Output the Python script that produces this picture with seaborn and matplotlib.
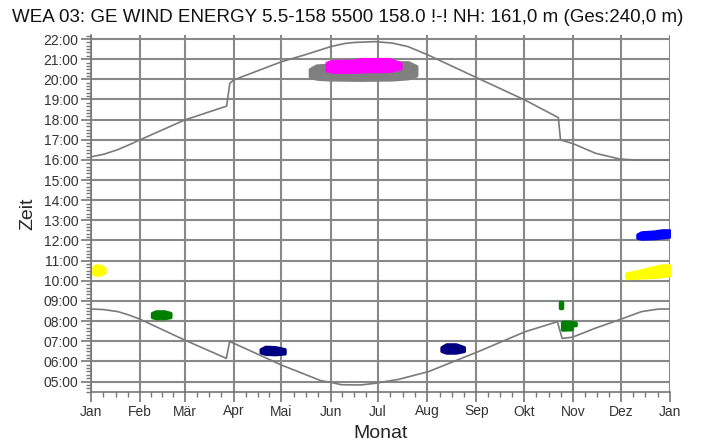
import numpy as np
import pandas as pd
import matplotlib
matplotlib.use("Agg")
import matplotlib.pyplot as plt
import seaborn as sns

# -----------------------------------
# 1. DATA (day of year, hour of day)
# -----------------------------------

month_days = [0, 31, 59, 90, 120, 151, 181, 212, 243, 273, 304, 334, 365]
month_labels = ["Jan", "Feb", "Mär", "Apr", "Mai", "Jun", "Jul",
                "Aug", "Sep", "Okt", "Nov", "Dez", "Jan"]
hour_ticks = list(range(5, 23))
hour_labels = ["%02d:00" % h for h in hour_ticks]

# sunset curve (with DST jumps)
sunset_days = [0, 8, 16.6, 24, 31, 59, 85.5, 87.5, 90, 120, 135, 151, 160,
               166, 179, 190, 200, 212.7, 244, 273.6, 294.6, 296, 303.5,
               318, 333.5, 345, 365]
sunset_hours = [16.15, 16.28, 16.5, 16.75, 17.0, 17.98, 18.67, 19.8, 19.97,
                20.87, 21.22, 21.62, 21.78, 21.83, 21.87, 21.8, 21.62, 21.2,
                20.05, 18.97, 18.1, 16.99, 16.82, 16.33, 16.04, 15.99, 15.99]

# sunrise curve (with DST jumps)
sunrise_days = [0, 8, 17, 24, 31, 59, 85.3, 87.4, 90, 120, 145, 151, 158,
                170, 179, 194, 212.7, 244, 273.6, 294, 297, 303.5, 318,
                332.5, 347, 358, 365]
sunrise_hours = [8.6, 8.57, 8.47, 8.3, 8.09, 7.06, 6.15, 6.98, 6.9, 5.82,
                 5.04, 4.96, 4.84, 4.83, 4.91, 5.11, 5.49, 6.48, 7.47, 7.97,
                 7.14, 7.2, 7.65, 8.05, 8.47, 8.6, 8.6]

# shadow periods: days, start hour, end hour
yellow_jan_days = [1.5, 3, 6, 8.5]
yellow_jan_lo = [10.35, 10.3, 10.32, 10.42]
yellow_jan_hi = [10.68, 10.76, 10.74, 10.62]

green_feb_days = [38.5, 41, 46, 50]
green_feb_lo = [8.2, 8.15, 8.15, 8.2]
green_feb_hi = [8.4, 8.48, 8.48, 8.4]

navy_apr_days = [107, 110, 116, 122]
navy_apr_lo = [6.45, 6.38, 6.36, 6.4]
navy_apr_hi = [6.6, 6.72, 6.7, 6.6]

gray_jun_days = [138, 142, 150, 170, 190, 200, 205]
gray_jun_lo = [20.15, 20.04, 20.0, 19.98, 20.0, 20.06, 20.2]
gray_jun_hi = [20.5, 20.68, 20.72, 20.74, 20.84, 20.84, 20.65]

magenta_jun_days = [148.6, 152, 165, 170, 188, 195]
magenta_jun_lo = [20.45, 20.38, 20.38, 20.4, 20.42, 20.55]
magenta_jun_hi = [20.82, 20.9, 20.92, 21.0, 21.0, 20.8]

navy_aug_days = [221, 224, 230, 235]
navy_aug_lo = [6.52, 6.44, 6.44, 6.52]
navy_aug_hi = [6.7, 6.84, 6.84, 6.7]

green_nov_a_days = [295.5, 297]
green_nov_a_lo = [8.63, 8.63]
green_nov_a_hi = [8.96, 8.96]

green_nov_b_days = [297, 303, 303.2, 305.5]
green_nov_b_lo = [7.58, 7.6, 7.8, 7.8]
green_nov_b_hi = [7.96, 7.96, 7.95, 7.92]

yellow_dez_days = [337.5, 345, 355, 360, 364.5]
yellow_dez_lo = [10.14, 10.16, 10.2, 10.24, 10.28]
yellow_dez_hi = [10.36, 10.48, 10.68, 10.76, 10.76]

blue_dez_days = [344.5, 347, 355, 360, 364.5]
blue_dez_lo = [12.14, 12.1, 12.12, 12.16, 12.2]
blue_dez_hi = [12.3, 12.4, 12.44, 12.5, 12.5]

blobs = [
    (gray_jun_days, gray_jun_lo, gray_jun_hi, "#808080"),
    (magenta_jun_days, magenta_jun_lo, magenta_jun_hi, "#ff00ff"),
    (yellow_jan_days, yellow_jan_lo, yellow_jan_hi, "#ffff00"),
    (green_feb_days, green_feb_lo, green_feb_hi, "#008000"),
    (navy_apr_days, navy_apr_lo, navy_apr_hi, "#000080"),
    (navy_aug_days, navy_aug_lo, navy_aug_hi, "#000080"),
    (green_nov_a_days, green_nov_a_lo, green_nov_a_hi, "#008000"),
    (green_nov_b_days, green_nov_b_lo, green_nov_b_hi, "#008000"),
    (yellow_dez_days, yellow_dez_lo, yellow_dez_hi, "#ffff00"),
    (blue_dez_days, blue_dez_lo, blue_dez_hi, "#0000ff"),
]

# -----------------------------------
# 2. FIGURE
# -----------------------------------

sns.set_theme(style="white")
plt.rcParams["font.family"] = ["Liberation Sans", "DejaVu Sans"]

fig = plt.figure(figsize=(7.06, 4.46), dpi=100)
ax = fig.add_axes([91 / 706, 54 / 446, 579 / 706, 357 / 446])

gridcol = "#888888"
for d in month_days:
    ax.axvline(d, color=gridcol, lw=1.5, zorder=1)
for h in hour_ticks:
    ax.axhline(h, color=gridcol, lw=1.5, zorder=1)

sun = pd.DataFrame({"day": sunset_days, "hour": sunset_hours})
rise = pd.DataFrame({"day": sunrise_days, "hour": sunrise_hours})
sns.lineplot(data=sun, x="day", y="hour", color="#7a7a7a", lw=1.2,
             sort=False, estimator=None, ax=ax, zorder=2)
sns.lineplot(data=rise, x="day", y="hour", color="#7a7a7a", lw=1.2,
             sort=False, estimator=None, ax=ax, zorder=2)

for days, lo, hi, col in blobs:
    ax.fill_between(days, lo, hi, color=col, lw=2.5, edgecolor=col,
                    joinstyle="round", zorder=3)

# -----------------------------------
# 3. AXES
# -----------------------------------

ax.set_xlim(0, 365)
ax.set_ylim(4.48, 22.2)

ax.set_xticks(month_days)
ax.set_xticklabels(month_labels)
minor_x = []
for a, b in zip(month_days[:-1], month_days[1:]):
    minor_x += [a + (b - a) * k / 4 for k in (1, 2, 3)]
ax.set_xticks(minor_x, minor=True)

ax.set_yticks(hour_ticks)
ax.set_yticklabels(hour_labels)
ax.set_yticks(np.arange(4.5, 22.2, 1 / 6), minor=True)

for s in ["top", "right"]:
    ax.spines[s].set_visible(False)
for s in ["left", "bottom"]:
    ax.spines[s].set_color("#777777")
    ax.spines[s].set_linewidth(1.2)

ax.tick_params(axis="both", which="major", length=7, width=1.2,
               color="#777777", labelsize=10, labelcolor="#333333", pad=2)
ax.tick_params(axis="both", which="minor", length=3.5, width=1.0,
               color="#777777")
ax.tick_params(axis="x", bottom=True, which="both")
ax.tick_params(axis="y", left=True, which="both")

ax.set_xlabel("Monat", fontsize=14, labelpad=5)
ax.set_ylabel("Zeit", fontsize=14, labelpad=5)

fig.text(12 / 706, 1 - 22 / 446,
         "WEA 03: GE WIND ENERGY 5.5-158 5500 158.0 !-! NH: 161,0 m (Ges:240,0 m)",
         fontsize=13.5, color="#111111", va="baseline", ha="left")

fig.savefig("out.png", dpi=100)
